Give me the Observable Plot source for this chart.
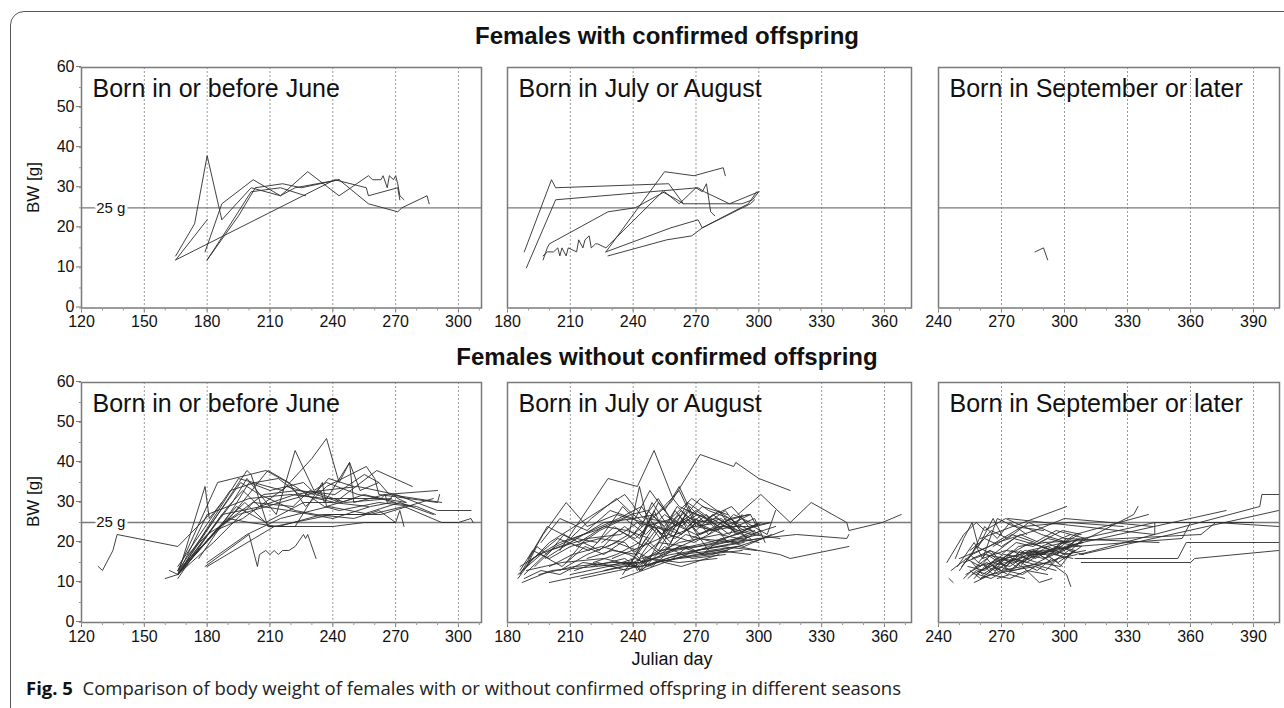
<!DOCTYPE html>
<html><head><meta charset="utf-8">
<script src="https://cdn.jsdelivr.net/npm/d3@7"></script>
<script src="https://cdn.jsdelivr.net/npm/@observablehq/plot@0.6"></script>
<style>
html,body{margin:0;padding:0;background:#fff;overflow:hidden}
#fig{position:relative;width:1284px;height:708px;font-family:"Liberation Sans",Arial,sans-serif;color:#111}
.border{position:absolute;left:10px;top:11px;width:1320px;height:710px;border:1.5px solid #555;border-radius:14px;box-sizing:border-box}
.title{position:absolute;left:0;width:1334px;text-align:center;font-weight:bold;font-size:24px;line-height:24px}
.xlab{position:absolute;left:572px;width:200px;text-align:center;font-size:18px;line-height:18px}
.ylab{position:absolute;width:80px;text-align:center;font-size:17px;line-height:17px;transform:rotate(-90deg);transform-origin:center center;z-index:5}
.cap{position:absolute;left:26px;font-family:"Open Sans","Noto Sans",sans-serif;font-size:18.5px;line-height:18px;color:#222;white-space:nowrap}
.cap b{color:#111}
.pn{position:absolute}
</style></head>
<body><div id="fig">
<div class="border"></div>
<div class="title" style="top:24px">Females with confirmed offspring</div>
<div class="title" style="top:345px">Females without confirmed offspring</div>
<div class="ylab" style="left:-7px;top:179px">BW [g]</div>
<div class="ylab" style="left:-7px;top:493px">BW [g]</div>
<div class="xlab" style="top:650px">Julian day</div>
<div class="cap" style="top:679px"><b>Fig. 5</b>&nbsp; Comparison of body weight of females with or without confirmed offspring in different seasons</div>
</div>
<script>
// Each individual: flat list of [julian day, body weight (g)] pairs
const withJune = [
 [165,13, 174,21, 180,38, 187,22, 201,30, 215,28, 222,30, 243,32, 257,26, 271,24, 273,25, 285,28, 286,26],
 [165,12, 180,22],
 [165,12, 241,32, 256,30, 257,28, 271,30, 272,27],
 [179,14, 187,26, 202,32, 215,28, 228,34, 243,28, 257,33, 259,32, 263,32, 264,33, 266,30, 267,33, 269,32, 270,33, 271,31, 272,28, 274,27],
 [180,12, 190,20, 201,29, 215,30, 227,28],
 [180,12, 195,23, 203,30, 216,31, 225,30, 243,32]
];
const withJulAug = [
 [188,14, 201,32, 203,30, 257,31, 264,26, 284,26, 292,26, 297,27, 300,29],
 [189,10, 203,27, 271,30, 274,29, 286,26, 300,29],
 [197,12, 199,15, 200,16, 228,24, 241,25, 255,29, 262,26, 270,30, 273,29, 275,31, 277,24, 279,23],
 [197,13, 199,14, 202,14, 204,15, 205,13, 206,15, 208,13, 209,15, 213,14, 214,17, 216,15, 217,17, 219,18, 220,15, 222,16, 223,16, 227,15, 254,29, 261,27, 264,26],
 [227,14, 255,34, 269,33, 283,35, 284,33],
 [227,14, 258,20, 271,22, 273,20, 295,26, 299,29],
 [228,13, 256,17, 268,18, 273,20, 296,26, 298,27]
];
const withSep = [
 [286,14, 290,15, 292,12]
];
const withoutJune = [
 [128,14, 130,13, 134,17, 135,18, 137,22, 166,19, 181,27],
 [160,11, 166,12, 179,34, 181,26, 187,30],
 [166,13, 185,35, 208,38, 222,34, 236,29, 243,28, 262,30, 278,29],
 [166,12, 199,38, 201,37, 209,24, 222,24, 235,35, 237,29, 250,31],
 [166,12, 192,30, 199,36, 213,27, 222,43, 231,33, 237,35, 252,32, 275,30],
 [166,12, 195,36, 216,33, 230,41, 237,46, 243,35, 248,40, 250,30, 265,32, 290,33],
 [166,13, 189,25, 209,38, 219,35, 227,29, 237,34, 256,39, 260,36, 262,32, 290,30, 291,32],
 [162,13, 166,12, 180,27, 200,31, 220,32, 236,31, 254,31, 263,31, 265,32, 266,30, 269,32, 271,31, 275,30],
 [166,11, 187,27, 206,29, 219,28, 240,26, 258,29, 268,30, 280,29, 289,27],
 [166,13, 196,35, 205,32, 222,28, 232,27, 250,26, 262,28, 270,25, 272,28, 274,24],
 [166,12, 188,25, 198,30, 210,24, 240,24, 255,25, 270,25],
 [166,14, 191,33, 203,35, 214,36, 224,32, 241,30, 261,38, 278,34],
 [166,12, 190,29, 197,33, 205,29, 222,32, 234,33, 236,30, 248,40, 253,33, 262,35, 267,32, 292,30],
 [171,17, 180,22, 195,27, 215,30, 235,33, 252,34, 270,32, 290,28, 306,28],
 [179,14, 200,22, 204,14, 205,17, 208,18, 210,17, 212,18, 214,17, 216,18, 219,18, 222,19, 226,22, 227,21, 228,22, 232,16],
 [180,14, 212,24, 240,27, 263,27, 288,31],
 [180,15, 199,22, 215,26, 238,29, 258,27, 274,29, 292,25, 300,25, 306,26, 307,25],
 [176,16, 193,29, 200,35, 210,33, 226,35, 232,32, 244,30, 255,32, 270,30],
 [166,12, 183,20, 202,30, 221,29, 229,33, 246,30, 268,31],
 [166,12, 186,24, 207,32, 223,33, 241,32, 255,37, 262,35],
 [166,12, 194,29, 208,25, 226,30, 240,30, 257,29],
 [166,12, 184,23, 197,26, 218,34, 231,32, 238,36, 250,34],
 [170,15, 190,26, 200,25, 214,24, 235,27, 254,27, 272,30, 288,27]
];
const withoutJulAug = [
 [240,22, 258,30, 272,42, 288,39, 289,40, 300,36, 315,33],
 [205,18, 228,36, 242,34, 250,43, 259,31, 262,29, 270,27],
 [186,12, 197,22, 208,30, 218,24, 232,27, 245,25],
 [187,13, 200,20, 215,25, 236,32, 245,26, 252,31, 260,24, 271,27, 281,24],
 [290,27, 301,32, 315,25, 325,30, 342,25, 343,23, 359,25, 368,27],
 [270,18, 300,21, 318,22, 342,21, 343,22],
 [250,15, 290,19, 310,17, 315,16, 343,19],
 [185,11, 192,16, 205,20, 222,23, 239,27, 247,28, 258,22, 266,30, 274,27, 284,24, 296,21],
 [186,14, 195,17, 210,20, 226,25, 241,26, 248,33, 255,28, 262,34, 270,25, 280,26, 290,23],
 [188,12, 200,18, 218,21, 234,22, 242,25, 256,23, 262,25, 272,31, 280,28, 292,24, 301,22],
 [190,15, 204,21, 219,18, 231,24, 245,19, 252,24, 263,22, 270,25, 283,22, 306,25],
 [187,10, 201,13, 222,14, 240,15, 244,16, 258,18, 276,20, 296,23],
 [189,13, 206,15, 226,16, 242,14, 250,17, 262,20, 281,22, 300,20],
 [195,12, 212,14, 230,15, 243,15, 252,18, 270,19, 290,21, 308,24],
 [200,10, 218,12, 236,14, 244,14, 262,17, 280,18, 296,17],
 [210,12, 228,14, 241,16, 245,15, 260,18, 283,20, 302,21],
 [215,11, 233,13, 243,14, 260,16, 285,18],
 [226,13, 243,15, 258,17, 282,19, 299,18],
 [234,11, 255,15, 276,19, 300,22],
 [235,12, 250,24, 258,20, 265,27, 272,24, 282,26, 290,22, 300,25],
 [228,19, 238,22, 243,34, 247,25, 254,22, 262,27, 268,21, 279,24, 287,26, 294,21],
 [198,16, 213,21, 223,20, 235,29, 244,24, 249,30, 258,23, 270,28, 286,22, 292,27],
 [193,14, 203,19, 216,22, 233,26, 244,29, 253,22, 265,26, 277,23, 289,24, 298,26, 303,20],
 [205,13, 218,17, 232,20, 242,18, 246,24, 259,26, 266,23, 275,27, 285,20, 298,23],
 [221,15, 232,17, 243,20, 250,28, 256,21, 269,24, 282,25, 295,27],
 [240,18, 248,16, 255,23, 263,28, 270,23, 278,27, 286,24, 292,26, 298,22],
 [238,14, 246,21, 252,18, 260,25, 267,29, 274,25, 281,28, 289,22],
 [244,17, 252,23, 257,19, 264,26, 272,22, 281,24, 295,24, 305,25],
 [213,19, 224,23, 236,26, 246,22, 255,27, 263,24, 273,29, 285,27],
 [196,20, 205,26, 218,23, 229,28, 240,26, 251,27, 262,33, 270,24, 279,23],
 [190,16, 199,24, 210,21, 220,26, 232,31, 240,27, 250,23],
 [208,15, 216,20, 224,18, 233,23, 241,21, 249,25, 260,21, 268,24, 276,18, 290,19],
 [243,13, 250,15, 262,16, 278,17, 302,21, 312,23],
 [230,16, 244,19, 257,22, 269,20, 283,24, 297,22, 310,21],
 [185,12, 196,17, 206,14, 217,19, 226,17, 240,22, 246,26, 258,25, 270,22, 288,25, 296,27, 299,24],
 [258,20, 266,28, 275,26, 287,29, 294,25, 304,22, 308,28],
 [245,22, 252,30, 258,26, 268,31, 276,28, 286,26, 296,27],
 [220,14, 236,16, 244,13, 255,19, 268,16, 284,17],
 [186,13, 192,18, 200,16, 210,19, 224,21, 236,20, 243,16, 252,20, 266,19],
 [188,11, 196,13, 205,12, 216,15, 230,14, 241,15, 243,13, 248,16, 262,15, 280,16],
 [200,14, 211,17, 225,19, 238,17, 242,16, 247,14, 256,16, 270,18, 293,20],
 [236,15, 241,14, 244,17, 246,15, 250,16, 262,19, 274,17, 292,18],
 [239,16, 242,13, 245,15, 249,14, 258,18, 271,21, 290,20, 301,23],
 [218,16, 230,18, 242,17, 246,20, 253,17, 265,22, 279,20, 298,24],
 [225,20, 236,24, 243,21, 249,27, 255,24, 261,29, 267,26, 276,25, 284,28, 291,23],
 [251,19, 258,24, 263,22, 270,26, 276,22, 284,26, 293,23, 301,25],
 [247,25, 253,21, 260,28, 266,24, 273,27, 280,23, 288,27, 296,25],
 [189,14, 194,19, 199,17, 207,22, 214,20, 226,24, 237,23, 248,21],
 [212,13, 223,15, 237,13, 247,16, 263,14, 281,17],
 [259,16, 266,19, 273,17, 282,21, 293,19, 306,22]
];
const withoutSep = [
 [307,17, 393,29, 394,32, 402,32],
 [308,17, 402,28],
 [308,15, 360,15, 362,16, 402,18],
 [305,16, 354,16, 358,20, 402,20],
 [300,19, 377,28],
 [296,17, 333,27, 335,29],
 [260,21, 301,29],
 [273,26, 343,22, 343,25],
 [290,20, 365,22, 372,25, 402,24],
 [283,18, 343,25, 390,25],
 [244,15, 252,22, 258,25, 262,23, 272,26, 289,22, 308,19],
 [250,16, 264,19, 280,24, 302,25, 328,24],
 [246,13, 256,17, 268,20, 286,23, 300,26, 322,25, 342,24],
 [252,11, 258,14, 266,15, 278,17, 290,18, 305,19, 356,21, 360,25],
 [245,11, 247,10],
 [256,12, 264,14, 272,15, 284,17, 296,18, 308,20],
 [254,14, 262,13, 270,16, 280,15, 292,19, 300,17, 310,18],
 [257,10, 265,12, 275,13, 286,14, 297,16, 306,17],
 [255,13, 260,11, 268,14, 276,13, 288,15, 298,14, 304,18],
 [258,12, 266,15, 274,14, 282,17, 290,16, 302,19, 309,20],
 [260,11, 270,13, 280,14, 293,15, 301,12, 303,9],
 [252,15, 262,17, 272,16, 286,18, 296,17, 307,21],
 [256,16, 265,18, 270,15, 278,19, 291,20, 300,18, 306,21],
 [262,14, 271,17, 283,16, 292,18, 303,17],
 [259,15, 267,13, 276,16, 289,14, 296,13],
 [264,12, 274,11, 282,13, 292,12],
 [268,11, 274,12, 281,11],
 [255,18, 262,21, 270,19, 279,22, 288,20, 299,23, 308,22],
 [250,13, 258,19, 266,17, 276,21, 289,19, 303,22],
 [261,16, 272,18, 287,17, 298,19, 305,18],
 [266,19, 275,22, 286,20, 296,23, 310,21],
 [253,12, 263,15, 270,13, 281,18, 293,17, 301,20],
 [257,18, 265,23, 273,21, 283,25, 300,21, 345,20],
 [270,16, 284,20, 294,18, 305,22, 340,27],
 [249,14, 257,20, 261,16, 268,26, 276,24, 290,23],
 [280,14, 288,10, 294,11],
 [254,11, 258,13, 263,12, 269,15, 274,13, 281,16, 287,15, 295,17, 304,16],
 [256,15, 261,12, 267,14, 273,17, 279,14, 285,18, 291,16, 298,20, 306,19],
 [258,14, 263,16, 268,13, 275,16, 282,15, 288,17, 294,15, 302,18, 309,17],
 [253,16, 260,14, 265,17, 272,14, 279,18, 286,16, 293,18, 300,16, 308,19],
 [257,11, 262,14, 266,12, 271,16, 277,14, 284,17, 291,17, 297,15, 305,18],
 [261,13, 268,16, 276,15, 283,18, 290,17, 296,19, 303,18, 309,21],
 [263,17, 269,15, 275,18, 282,16, 289,19, 295,18, 301,21],
 [259,12, 265,11, 272,13, 280,12, 286,14, 291,13, 297,16],
 [255,17, 259,15, 264,18, 270,17, 277,20, 285,19, 292,21, 300,20, 307,22],
 [266,14, 273,12, 279,15, 287,13, 294,16, 299,14],
 [248,16, 252,21, 256,25, 259,19, 263,23, 266,26, 270,22],
 [251,14, 256,17, 262,24, 268,21, 274,25, 282,22]
];
const panelLabels = ["Born in or before June", "Born in July or August", "Born in September or later"];
const yTicks = [0, 10, 20, 30, 40, 50, 60];
const refWeight = 25;

function toRows(inds){
  const rows = [];
  inds.forEach((a, id) => { for (let i = 0; i < a.length; i += 2) rows.push({id, d: a[i], w: a[i+1]}); });
  return rows;
}

const cols = [
  {L: 81,  W: 400, domain: [120, 311.0]},
  {L: 507, W: 404, domain: [180, 372.9]},
  {L: 938, W: 341, domain: [240, 402.4]}
];
const rowsPos = [{T: 66.5, H: 240.5}, {T: 382, H: 240}];
const datasets = [[withJune, withJulAug, withSep], [withoutJune, withoutJulAug, withoutSep]];

const fig = document.getElementById("fig");
rowsPos.forEach((rp, r) => {
  cols.forEach((c, k) => {
    const showY = k === 0;
    const mL = showY ? 81 : 6, mT = 6, mR = 6, mB = 34;
    const dom = c.domain;
    const ticks = d3.range(Math.ceil(dom[0] / 30) * 30, dom[1] + 0.01, 30);
    const minor = d3.range(Math.ceil(dom[0] / 10) * 10, dom[1], 10);
    const grid = ticks.filter(t => t > dom[0] && t < dom[1]);
    const marks = [
      Plot.ruleX(grid, {stroke: "#9a9a9a", strokeDasharray: "2,2", strokeWidth: 1}),
      Plot.ruleY([refWeight], {stroke: "#7a7a7a", strokeWidth: 1.3}),
      Plot.line(toRows(datasets[r][k]), {x: "d", y: "w", z: "id", stroke: "#2e2e2e", strokeWidth: 1, strokeOpacity: 0.9}),
      Plot.frame({stroke: "#7a7a7a", strokeWidth: 1.5}),
      Plot.axisX(ticks, {tickSize: 5, tickPadding: 3, fontSize: 16, label: null, stroke: "#777", fill: "#111"}),
      Plot.axisX(minor, {tickSize: 3, tickFormat: () => "", label: null, stroke: "#999"}),
      Plot.text([panelLabels[k]], {frameAnchor: "top-left", dx: 11, dy: 12, lineAnchor: "top", textAnchor: "start", fontSize: 25, fill: "#111"})
    ];
    if (showY) {
      marks.push(
        Plot.axisY(yTicks, {tickSize: 5, tickPadding: 2, fontSize: 16, label: null, stroke: "#777", fill: "#111", dy: -1}),
        Plot.axisY(d3.range(0, 61, 5), {tickSize: 2, tickFormat: () => "", label: null, stroke: "#999"}),
        Plot.text(["25 g"], {x: 134, y: refWeight, fontSize: 15, fill: "#111", stroke: "white", strokeWidth: 6})
      );
    }
    const svg = Plot.plot({
      width: c.W + mL + mR, height: rp.H + mT + mB,
      marginLeft: mL, marginRight: mR, marginTop: mT, marginBottom: mB,
      x: {domain: dom, axis: null}, y: {domain: [0, 60], axis: null},
      style: {fontFamily: '"Liberation Sans", Arial, sans-serif', fontSize: "16px", color: "#111", background: "transparent", overflow: "visible"},
      marks
    });
    svg.classList.add("pn");
    svg.style.left = (c.L - mL) + "px";
    svg.style.top = (rp.T - mT) + "px";
    fig.appendChild(svg);
  });
});
</script>
</body></html>
